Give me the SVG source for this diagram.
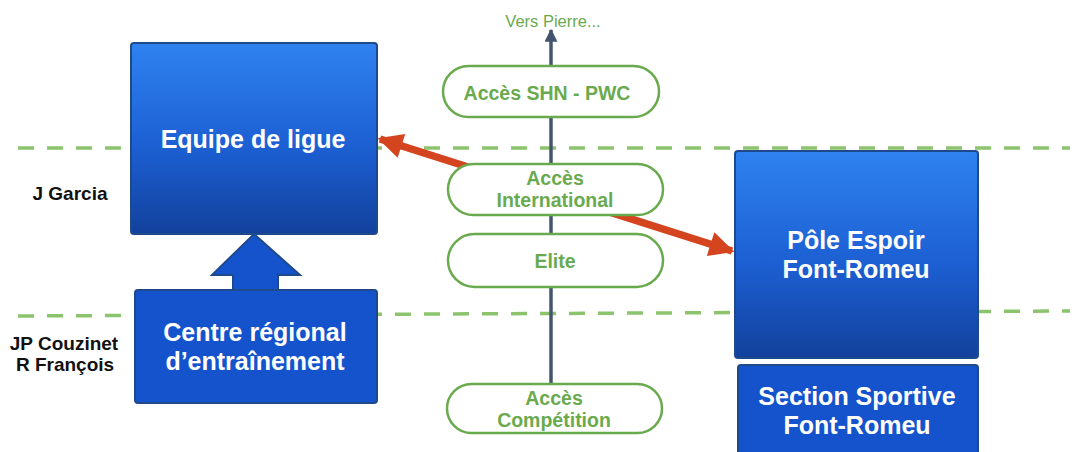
<svg xmlns="http://www.w3.org/2000/svg" width="1075" height="452" viewBox="0 0 1075 452">
<defs>
<linearGradient id="gBlue" x1="0" y1="0" x2="0" y2="1">
<stop offset="0" stop-color="#2f82f0"/>
<stop offset="0.55" stop-color="#1c5fd2"/>
<stop offset="1" stop-color="#12419c"/>
</linearGradient>
<marker id="redHead" viewBox="0 0 10 10" refX="9" refY="5" markerWidth="27" markerHeight="25" markerUnits="userSpaceOnUse" orient="auto-start-reverse">
<path d="M0,0 L10,5 L0,10 Z" fill="#d4441f"/>
</marker>
<marker id="navyHead" viewBox="0 0 10 10" refX="9" refY="5" markerWidth="14" markerHeight="13" markerUnits="userSpaceOnUse" orient="auto">
<path d="M0,0 L10,5 L0,10 Z" fill="#44546f"/>
</marker>
</defs>
<style>
.band{stroke:#8cc46e;stroke-width:3.5;stroke-dasharray:16 13;fill:none}
.boxg{fill:url(#gBlue);stroke:#1e4a8c;stroke-width:2}
.boxs{fill:#1453cc;stroke:#1e4a8c;stroke-width:2}
.pill{fill:#ffffff;stroke:#6aaa4e;stroke-width:2.5}
.bt{font-family:"Liberation Sans",Arial,sans-serif;font-weight:bold;font-size:25px;fill:#ffffff;text-anchor:middle}
.pt{font-family:"Liberation Sans",Arial,sans-serif;font-weight:bold;font-size:19.5px;fill:#6aaa4e;text-anchor:middle}
.lt{font-family:"Liberation Sans",Arial,sans-serif;font-weight:bold;font-size:19px;fill:#111111;text-anchor:middle}
.vt{font-family:"Liberation Sans",Arial,sans-serif;font-size:16.5px;fill:#6aaa4e;text-anchor:middle}
</style>
<rect width="1075" height="452" fill="#ffffff"/>

<g id="bands">
<line class="band" x1="18" y1="148" x2="1070" y2="148"/>
<line class="band" x1="18" y1="316" x2="1070" y2="311"/>
</g>

<g id="labels">
<text class="lt" x="70" y="200">J Garcia</text>
<text class="lt" x="64" y="350">JP Couzinet</text>
<text class="lt" x="65" y="371">R François</text>
</g>

<g id="connectors">
<line x1="551" y1="384" x2="551" y2="30" stroke="#44546f" stroke-width="3.5" marker-end="url(#navyHead)"/>
<line x1="380" y1="139" x2="732" y2="251" stroke="#d4441f" stroke-width="7.5" marker-start="url(#redHead)" marker-end="url(#redHead)"/>
</g>

<g id="vers-pierre">
<text class="vt" x="553" y="27">Vers Pierre...</text>
</g>

<g id="equipe-ligue">
<rect class="boxg" x="131" y="43" width="246" height="191" rx="3"/>
<text class="bt" x="253" y="148">Equipe de ligue</text>
</g>

<g id="up-arrow">
<polygon class="boxs" points="254,234 300,275 278,275 278,291 233,291 233,275 212,275"/>
</g>

<g id="centre-regional">
<rect class="boxs" x="135" y="290" width="242" height="113" rx="3"/>
<text class="bt" x="255" y="341">Centre régional</text>
<text class="bt" x="255" y="370">d’entraînement</text>
</g>

<g id="acces-shn">
<rect class="pill" x="443" y="66" width="216" height="51" rx="25.5"/>
<text class="pt" x="547" y="100">Accès SHN - PWC</text>
</g>

<g id="acces-international">
<rect class="pill" x="448" y="164" width="215" height="51" rx="25.5"/>
<text class="pt" x="555" y="185">Accès</text>
<text class="pt" x="555" y="207">International</text>
</g>

<g id="elite">
<rect class="pill" x="448" y="234" width="215" height="53" rx="26.5"/>
<text class="pt" x="555" y="268">Elite</text>
</g>

<g id="acces-competition">
<rect class="pill" x="447" y="384" width="215" height="49" rx="24.5"/>
<text class="pt" x="554" y="405">Accès</text>
<text class="pt" x="554" y="427">Compétition</text>
</g>

<g id="pole-espoir">
<rect class="boxg" x="735" y="151" width="243" height="207" rx="3"/>
<text class="bt" x="856" y="249">Pôle Espoir</text>
<text class="bt" x="856" y="278">Font-Romeu</text>
</g>

<g id="section-sportive">
<rect class="boxs" x="738" y="365" width="240" height="100" rx="3"/>
<text class="bt" x="857" y="405">Section Sportive</text>
<text class="bt" x="857" y="434">Font-Romeu</text>
</g>
</svg>
